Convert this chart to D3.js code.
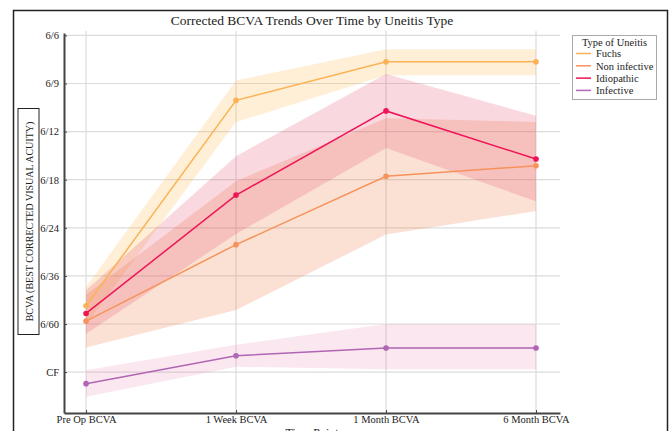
<!DOCTYPE html>
<html>
<head>
<meta charset="utf-8">
<script src="https://cdn.jsdelivr.net/npm/d3@7/dist/d3.min.js"></script>
<style>
  html, body { margin: 0; padding: 0; background: #fff; }
  svg { display: block; font-family: "Liberation Serif", "Times New Roman", serif; }
  svg text { font-family: "Liberation Serif", "Times New Roman", serif; }
</style>
</head>
<body>
<svg id="chart" width="670" height="431"></svg>
<script>
// Time points along the x axis
const timePoints = ["Pre Op BCVA", "1 Week BCVA", "1 Month BCVA", "6 Month BCVA"];

// Snellen acuity levels, worst to best (ordinal index 0..7)
const acuityLabels = ["CF", "6/60", "6/36", "6/24", "6/18", "6/12", "6/9", "6/6"];

// Mean acuity (ordinal scale) and spread band per uveitis type
const fuchsMean = [1.38, 5.65, 6.45, 6.45];
const fuchsUpper = [1.77, 6.06, 6.71, 6.71];
const fuchsLower = [0.99, 5.20, 6.17, 6.17];

const nonInfectiveMean = [1.06, 2.65, 4.07, 4.29];
const nonInfectiveUpper = [1.61, 3.97, 5.28, 5.20];
const nonInfectiveLower = [0.51, 1.29, 2.86, 3.35];

const idiopathicMean = [1.22, 3.68, 5.43, 4.43];
const idiopathicUpper = [1.70, 4.49, 6.20, 5.33];
const idiopathicLower = [0.80, 2.87, 4.66, 3.55];

const infectiveMean = [-0.24, 0.34, 0.50, 0.50];
const infectiveUpper = [0.04, 0.57, 1.00, 1.00];
const infectiveLower = [-0.51, 0.11, 0.06, 0.06];

const seriesNames = ["Fuchs", "Non infective", "Idiopathic", "Infective"];

const series = [
  { name: seriesNames[0], mean: fuchsMean, lo: fuchsLower, hi: fuchsUpper,
    line: "#fbb256", band: "#fbb446", bandOpacity: 0.22 },
  { name: seriesNames[1], mean: nonInfectiveMean, lo: nonInfectiveLower, hi: nonInfectiveUpper,
    line: "#f7925a", band: "#f0814a", bandOpacity: 0.24 },
  { name: seriesNames[2], mean: idiopathicMean, lo: idiopathicLower, hi: idiopathicUpper,
    line: "#ee1556", band: "#e63c64", bandOpacity: 0.2 },
  { name: seriesNames[3], mean: infectiveMean, lo: infectiveLower, hi: infectiveUpper,
    line: "#b066b4", band: "#eb78aa", bandOpacity: 0.18 }
];

const svg = d3.select("#chart");

const plot = { left: 64, right: 560, top: 33, bottom: 413 };

const x = d3.scaleLinear()
  .domain([-0.147, 3.16])
  .range([plot.left, plot.right]);

const y = d3.scaleLinear()
  .domain([-0.85, 7.05])
  .range([plot.bottom, plot.top]);

// Outer frame
svg.append("rect")
  .attr("x", 13.5).attr("y", 10.5)
  .attr("width", 654).attr("height", 440)
  .attr("fill", "none").attr("stroke", "#222").attr("stroke-width", 1.5);

// Grid
const grid = svg.append("g").attr("stroke", "#dcdcdc").attr("stroke-width", 1.2);
grid.selectAll("line.h").data(acuityLabels).join("line")
  .attr("class", "h")
  .attr("x1", plot.left).attr("x2", plot.right)
  .attr("y1", (d, i) => y(i)).attr("y2", (d, i) => y(i));
grid.selectAll("line.v").data(timePoints).join("line")
  .attr("class", "v")
  .attr("x1", (d, i) => x(i)).attr("x2", (d, i) => x(i))
  .attr("y1", plot.top - 2).attr("y2", plot.bottom);

// Bands
const area = d3.area()
  .x((d, i) => x(i))
  .y0(d => y(d.lo))
  .y1(d => y(d.hi));

svg.append("g").selectAll("path").data(series).join("path")
  .attr("d", s => area(s.mean.map((m, i) => ({ lo: s.lo[i], hi: s.hi[i] }))))
  .attr("fill", s => s.band)
  .attr("fill-opacity", s => s.bandOpacity)
  .attr("stroke", "none");

// Mean lines and markers
const line = d3.line().x((d, i) => x(i)).y(d => y(d));

const lines = svg.append("g");
series.forEach(s => {
  lines.append("path")
    .attr("d", line(s.mean))
    .attr("fill", "none")
    .attr("stroke", s.line)
    .attr("stroke-width", 1.5);
  lines.selectAll(null).data(s.mean).join("circle")
    .attr("cx", (d, i) => x(i))
    .attr("cy", d => y(d))
    .attr("r", 2.8)
    .attr("fill", s.line);
});

// Axes
const yAxis = d3.axisLeft(y)
  .tickValues(d3.range(acuityLabels.length))
  .tickFormat(i => acuityLabels[i])
  .tickSizeInner(-3)
  .tickSizeOuter(0)
  .tickPadding(5);

const xAxis = d3.axisBottom(x)
  .tickValues(d3.range(timePoints.length))
  .tickFormat(i => timePoints[i])
  .tickSizeInner(-3)
  .tickSizeOuter(0)
  .tickPadding(3);

const gy = svg.append("g")
  .attr("transform", `translate(${plot.left},0)`)
  .call(yAxis);
const gx = svg.append("g")
  .attr("transform", `translate(0,${plot.bottom})`)
  .call(xAxis);

[gx, gy].forEach(g => {
  g.attr("font-family", "Liberation Serif, serif").attr("font-size", 10.5);
  g.select(".domain").attr("stroke", "#444").attr("stroke-width", 2);
  g.selectAll(".tick line").attr("stroke", "#444").attr("stroke-width", 1);
  g.selectAll(".tick text").attr("fill", "#222");
});

// Title
svg.append("text")
  .attr("x", (plot.left + plot.right) / 2)
  .attr("y", 25)
  .attr("text-anchor", "middle")
  .attr("fill", "#222")
  .style("font-size", "13.5px")
  .text("Corrected BCVA Trends Over Time by Uneitis Type");

// X axis title
svg.append("text")
  .attr("x", (plot.left + plot.right) / 2)
  .attr("y", 437)
  .attr("text-anchor", "middle")
  .attr("fill", "#222")
  .style("font-size", "12px")
  .text("Time Point");

// Y axis title in a box
const yTitle = svg.append("g").attr("transform", "translate(28.5,221.5) rotate(-90)");
yTitle.append("rect")
  .attr("x", -113).attr("y", -10.5)
  .attr("width", 226).attr("height", 21)
  .attr("fill", "#fff").attr("stroke", "#222").attr("stroke-width", 1);
yTitle.append("text")
  .attr("x", 0).attr("y", 4)
  .attr("text-anchor", "middle")
  .attr("fill", "#222")
  .style("font-size", "10px")
  .text("BCVA (BEST CORRECTED VISUAL ACUITY)");

// Legend
const legend = svg.append("g").attr("transform", "translate(572,35)");
legend.append("rect")
  .attr("x", 0.5).attr("y", 0.5)
  .attr("width", 84).attr("height", 64)
  .attr("fill", "#fff").attr("stroke", "#aaa").attr("stroke-width", 1);
legend.append("text")
  .attr("x", 42.5).attr("y", 10.5)
  .attr("text-anchor", "middle")
  .attr("fill", "#222")
  .style("font-size", "10.5px")
  .text("Type of Uneitis");
const items = legend.selectAll("g.item").data(series).join("g")
  .attr("class", "item")
  .attr("transform", (d, i) => `translate(0,${18.5 + i * 12.3})`);
items.append("line")
  .attr("x1", 4).attr("x2", 19)
  .attr("stroke", d => d.line).attr("stroke-width", 1.5);
items.append("text")
  .attr("x", 24).attr("y", 3.8)
  .attr("fill", "#222")
  .style("font-size", "10.5px")
  .text(d => d.name);
</script>
</body>
</html>
